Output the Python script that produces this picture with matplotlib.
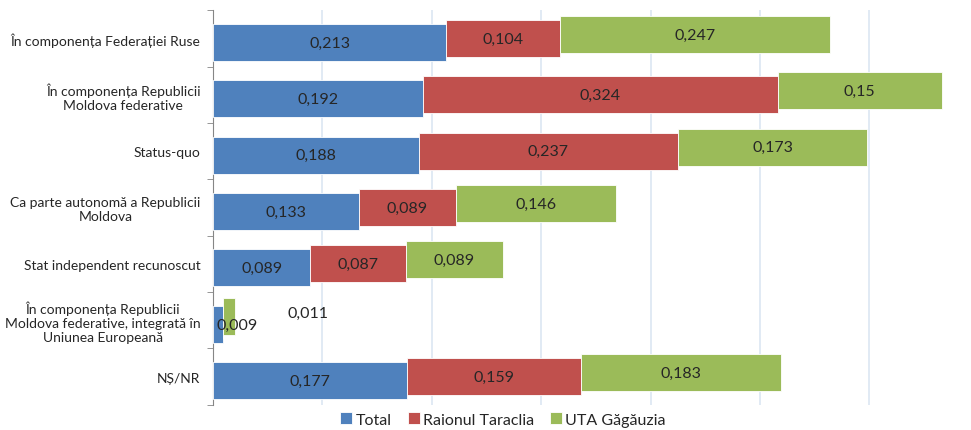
import numpy as np
import matplotlib.pyplot as plt

plt.rcParams['font.family'] = ['Lato', 'DejaVu Sans']

categories = [
    "În componența Federației Ruse",
    "În componența Republicii\nMoldova federative",
    "Status-quo",
    "Ca parte autonomă a Republicii\nMoldova",
    "Stat independent recunoscut",
    "În componența Republicii\nMoldova federative, integrată în\nUniunea Europeană",
    "NȘ/NR",
]
total = [0.213, 0.192, 0.188, 0.133, 0.089, 0.009, 0.177]
taraclia = [0.104, 0.324, 0.237, 0.089, 0.087, 0.0, 0.159]
gagauzia = [0.247, 0.15, 0.173, 0.146, 0.089, 0.011, 0.183]

series = [("Total", total, '#4F81BD', 0.07),
          ("Raionul Taraclia", taraclia, '#C0504D', 0.0),
          ("UTA Găgăuzia", gagauzia, '#9BBB59', -0.07)]


def fmt(v):
    return f"{v:g}".replace('.', ',')


fig = plt.figure(figsize=(9.71, 4.31), dpi=100)
ax = fig.add_axes([213 / 971, 0.0587, 1 - 213 / 971, 0.9151])

y = np.arange(len(categories))
left = np.zeros(len(categories))
for name, vals, color, off in series:
    vals = np.array(vals)
    ax.barh(y + off, vals, left=left, height=0.657, color=color,
            edgecolor='white', linewidth=0.6, label=name, zorder=3)
    for i, v in enumerate(vals):
        if v > 0.02:
            ax.text(left[i] + v / 2, y[i] + off, fmt(v), ha='center', va='center',
                    fontsize=11.5, color='#262626', zorder=4)
    left = left + vals

# small values in the EU row, labels placed off the bars
ax.text(0.022, 5 + 0.09, fmt(total[5]), ha='center', va='center',
        fontsize=11.5, color='#262626', zorder=4)
ax.text(0.087, 5 - 0.13, fmt(gagauzia[5]), ha='center', va='center',
        fontsize=11.5, color='#262626', zorder=4)

ax.set_xlim(0, 758 / 1094)
ax.set_ylim(6.5, -0.5)
ax.set_xticks(np.arange(0.1, 0.7, 0.1))
ax.set_xticklabels([])
ax.tick_params(axis='x', length=0)
ax.grid(axis='x', color='#dce6f2', linewidth=1.2, zorder=0)

ax.set_yticks(y)
ax.set_yticklabels(categories, fontsize=10, color='#262626', multialignment='center')
ax.tick_params(axis='y', which='major', length=0, pad=9)
ax.set_yticks(np.arange(-0.5, 7, 1), minor=True)
ax.tick_params(axis='y', which='minor', length=4, color='#868686', direction='out')

for s in ['top', 'right', 'bottom']:
    ax.spines[s].set_visible(False)
ax.spines['left'].set_color('#868686')

fig.legend(loc='center', bbox_to_anchor=(0.518, 0.024), ncol=3, frameon=False,
           fontsize=11.5, handlelength=0.75, handleheight=0.75, handletextpad=0.2,
           columnspacing=1.0, labelcolor='#262626', borderpad=0.1)

fig.savefig("out.png", dpi=100)
